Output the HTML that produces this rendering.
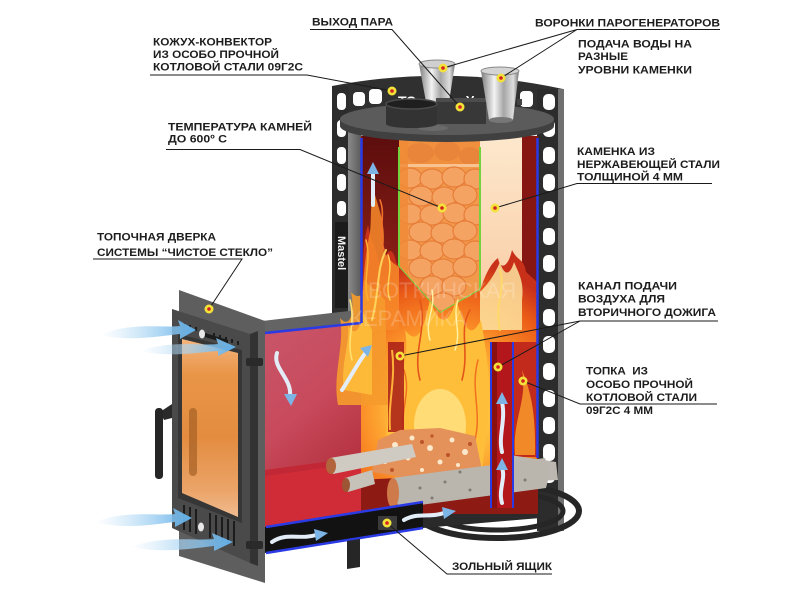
<!DOCTYPE html>
<html><head><meta charset="utf-8">
<style>
html,body{margin:0;padding:0;background:#fff;}
svg{display:block;}
.t{font-family:"Liberation Sans","DejaVu Sans",sans-serif;font-weight:bold;font-size:11px;fill:#1c1c1c;}
.l{stroke:#1a1a1a;stroke-width:1;fill:none;}
</style></head><body>
<svg width="800" height="600" viewBox="0 0 800 600" xmlns="http://www.w3.org/2000/svg">
<defs>
 <radialGradient id="gFlame" cx="445" cy="410" r="150" gradientUnits="userSpaceOnUse">
  <stop offset="0" stop-color="#ffe98a"/>
  <stop offset="0.28" stop-color="#ffc640"/>
  <stop offset="0.55" stop-color="#fb9028"/>
  <stop offset="0.82" stop-color="#eb5c17"/>
  <stop offset="1" stop-color="#c8301a"/>
 </radialGradient>
 <linearGradient id="gWall" x1="0" y1="0" x2="0.4" y2="1">
  <stop offset="0" stop-color="#c9566a"/>
  <stop offset="0.5" stop-color="#c84a5c"/>
  <stop offset="1" stop-color="#b12d3a"/>
 </linearGradient>
 <linearGradient id="gLeft" x1="0" y1="0" x2="0" y2="1">
  <stop offset="0" stop-color="#5c0d0d"/>
  <stop offset="1" stop-color="#a2291a"/>
 </linearGradient>
 <linearGradient id="gCream" x1="0" y1="0" x2="0" y2="1">
  <stop offset="0" stop-color="#fde8cd"/>
  <stop offset="1" stop-color="#f8c79c"/>
 </linearGradient>
 <linearGradient id="gGlass" x1="0" y1="0" x2="0" y2="1">
  <stop offset="0" stop-color="#f3b57f"/>
  <stop offset="0.2" stop-color="#e99547"/>
  <stop offset="0.55" stop-color="#e38c40"/>
  <stop offset="0.85" stop-color="#eba468"/>
  <stop offset="1" stop-color="#f0bb90"/>
 </linearGradient>
 <linearGradient id="gSteel" x1="0" y1="0" x2="1" y2="0">
  <stop offset="0" stop-color="#7d7d7d"/>
  <stop offset="0.35" stop-color="#f3f3f3"/>
  <stop offset="0.6" stop-color="#a6a6a6"/>
  <stop offset="0.85" stop-color="#dedede"/>
  <stop offset="1" stop-color="#727272"/>
 </linearGradient>
 <linearGradient id="gAir" x1="0" y1="0" x2="1" y2="0">
  <stop offset="0" stop-color="#bfe0f7" stop-opacity="0"/>
  <stop offset="0.5" stop-color="#a8d4f3" stop-opacity="0.7"/>
  <stop offset="1" stop-color="#5eaee8"/>
 </linearGradient>
 <linearGradient id="gGreyStrip" x1="0" y1="0" x2="1" y2="0">
  <stop offset="0" stop-color="#8a8a8a"/>
  <stop offset="1" stop-color="#5c5c5c"/>
 </linearGradient>
 <clipPath id="cStone"><polygon points="399,140 399,267 440,313 480,290 480,140"/></clipPath>
</defs>

<rect width="800" height="600" fill="#fff"/>

<!-- ===== convector frame ===== -->
<path d="M332,86 Q447,64 563,89 L563,128 L332,128 Z" fill="#303030"/>
<g fill="#fff">
 <rect x="353" y="92" width="12" height="14" rx="4"/>
 <rect x="369" y="89" width="13" height="15" rx="4"/>
 <rect x="520" y="91" width="13" height="16" rx="4"/>
</g>
<text x="398" y="106" font-family="Liberation Sans, sans-serif" font-weight="bold" font-size="14" fill="#fff">ТЭ</text>
<text x="466" y="105" font-family="Liberation Sans, sans-serif" font-weight="bold" font-size="13" fill="#fff">У</text>

<!-- left column -->
<rect x="332" y="86" width="17" height="232" fill="#2c2c2c"/>
<g fill="#fff">
 <rect x="337" y="93" width="9" height="17" rx="4"/>
 <rect x="337" y="120" width="9" height="17" rx="4"/>
 <rect x="337" y="147" width="9" height="17" rx="4"/>
 <rect x="337" y="174" width="9" height="17" rx="4"/>
 <rect x="337" y="201" width="9" height="15" rx="4"/>
</g>
<rect x="335" y="222" width="13" height="86" fill="#1b1b1b"/>
<text transform="translate(338,236) rotate(90)" font-family="Liberation Sans, sans-serif" font-weight="bold" font-size="11" fill="#f2f2f2">Mastel</text>
<rect x="348" y="126" width="13" height="194" fill="url(#gGreyStrip)"/>

<!-- right column -->
<rect x="537" y="89" width="22" height="442" fill="#2c2c2c"/>
<rect x="558" y="89" width="6" height="442" fill="#707070"/>
<g fill="#fff">
 <rect x="543" y="94" width="12" height="16" rx="5"/>
 <rect x="543" y="120" width="12" height="17" rx="5"/>
 <rect x="543" y="147" width="12" height="17" rx="5"/>
 <rect x="543" y="174" width="12" height="17" rx="5"/>
 <rect x="543" y="201" width="12" height="17" rx="5"/>
 <rect x="543" y="228" width="12" height="17" rx="5"/>
 <rect x="543" y="255" width="12" height="17" rx="5"/>
 <rect x="543" y="282" width="12" height="17" rx="5"/>
 <rect x="543" y="309" width="12" height="17" rx="5"/>
 <rect x="543" y="336" width="12" height="17" rx="5"/>
 <rect x="543" y="363" width="12" height="17" rx="5"/>
 <rect x="543" y="390" width="12" height="17" rx="5"/>
 <rect x="543" y="417" width="12" height="17" rx="5"/>
 <rect x="543" y="444" width="12" height="17" rx="5"/>
 <rect x="543" y="471" width="12" height="12" rx="5"/>
</g>

<!-- base ring -->
<g fill="none" stroke="#262626">
 <ellipse cx="497" cy="511" rx="82" ry="27" stroke-width="6"/>
 <ellipse cx="497" cy="511" rx="66" ry="19" stroke-width="5"/>
</g>
<path d="M420,500 L500,495 L540,500 L540,518 L423,528 Z" fill="#2a2a2a"/>

<!-- ===== firebox (left box) ===== -->
<polygon points="262,321 349,311 361,311 361,323 265,333" fill="#646464"/>
<polygon points="265,333 361,323 361,513 265,527" fill="url(#gWall)"/>
<polygon points="265,470 378,455 423,470 423,502 265,527" fill="#cf2c38"/>
<polygon points="265,470 378,455 382,460 265,476" fill="#b82432" opacity="0.6"/>

<!-- ===== cylinder interior ===== -->
<rect x="361" y="136" width="177" height="378" fill="#8e1a14"/>
<rect x="362" y="136" width="37" height="200" fill="url(#gLeft)"/>
<rect x="480" y="136" width="42" height="200" fill="url(#gCream)"/>
<rect x="522" y="136" width="15" height="210" fill="#861612"/>

<!-- stone box -->
<polygon points="399,140 399,267 440,313 480,290 480,140" fill="#f29a4b"/>
<g clip-path="url(#cStone)">
 <rect x="399" y="140" width="81" height="25" fill="#f0903e"/>
 <g fill="#e9853a">
  <ellipse cx="420" cy="153" rx="14" ry="10"/>
  <ellipse cx="447" cy="151" rx="13" ry="10"/>
  <ellipse cx="470" cy="156" rx="11" ry="9"/>
 </g>
 <rect x="399" y="164" width="81" height="3" fill="#f8c390"/>
 <g fill="#f5a363" stroke="#e67d38" stroke-width="1.2">
  <ellipse cx="410" cy="178" rx="12" ry="10"/><ellipse cx="432" cy="179" rx="12" ry="10"/><ellipse cx="454" cy="177" rx="12" ry="10"/><ellipse cx="475" cy="179" rx="11" ry="10"/>
  <ellipse cx="421" cy="196" rx="12" ry="10"/><ellipse cx="444" cy="197" rx="12" ry="10"/><ellipse cx="465" cy="195" rx="12" ry="10"/>
  <ellipse cx="410" cy="214" rx="12" ry="10"/><ellipse cx="432" cy="215" rx="12" ry="10"/><ellipse cx="455" cy="213" rx="12" ry="10"/><ellipse cx="475" cy="215" rx="11" ry="10"/>
  <ellipse cx="421" cy="232" rx="12" ry="10"/><ellipse cx="443" cy="233" rx="12" ry="10"/><ellipse cx="465" cy="231" rx="12" ry="10"/>
  <ellipse cx="410" cy="250" rx="12" ry="10"/><ellipse cx="432" cy="251" rx="12" ry="10"/><ellipse cx="454" cy="249" rx="12" ry="10"/><ellipse cx="475" cy="251" rx="11" ry="10"/>
  <ellipse cx="421" cy="268" rx="12" ry="10"/><ellipse cx="443" cy="269" rx="12" ry="10"/><ellipse cx="465" cy="267" rx="12" ry="10"/>
  <ellipse cx="432" cy="286" rx="12" ry="10"/><ellipse cx="454" cy="286" rx="12" ry="10"/>
  <ellipse cx="443" cy="302" rx="12" ry="9"/>
 </g>
 <rect x="399" y="140" width="9" height="173" fill="#f08a36" opacity="0.8"/>
</g>
<polyline points="399,147 399,267 440,313 480,290 480,147" fill="none" stroke="#74d23e" stroke-width="2"/>

<!-- flames -->
<path d="M361,480 L361,300 C366,280 360,250 368,225 C372,245 378,250 380,272 C385,252 392,242 396,262 L399,267 L440,313 L480,290 C485,276 490,264 498,258 C500,270 508,268 512,250 C518,262 524,258 526,272 L537,282 L537,470 Z" fill="url(#gFlame)"/>
<path d="M362,300 C364,270 366,250 370,232 C372,215 369,205 375,195 C381,215 386,228 383,250 C390,262 396,265 399,267 L399,330 L362,330 Z" fill="#f7892a" opacity="0.85"/>
<path d="M480,330 L480,292 C488,284 494,276 500,262 C504,276 510,276 514,262 C520,276 524,282 522,300 L522,330 Z" fill="#fde3a0" opacity="0.85"/>
<path d="M338,405 C332,375 345,345 340,318 C350,330 355,312 351,292 C360,302 366,292 364,280 L385,300 L388,405 Z" fill="#f59a2c" opacity="0.92"/>
<path d="M344,390 C340,365 350,345 348,325 C356,340 362,325 362,310 L372,330 L372,395 Z" fill="#ffc23c" opacity="0.8"/>
<path d="M392,470 C378,430 395,400 390,370 C400,390 410,360 405,330 C420,350 425,320 430,300 C440,330 450,322 456,300 C466,330 470,340 481,320 C486,350 492,382 488,420 L482,470 Z" fill="#ffbe3a"/>
<ellipse cx="440" cy="425" rx="26" ry="36" fill="#ffe58a" opacity="0.75"/>
<g fill="none" stroke-linecap="round">
 <path d="M372,320 C380,290 376,270 386,250" stroke="#ffd25a" stroke-width="2"/>
 <path d="M420,380 C412,350 428,330 420,300" stroke="#e3541a" stroke-width="1.6"/>
 <path d="M462,380 C470,350 458,330 470,310" stroke="#e3541a" stroke-width="1.6"/>
 <path d="M500,330 C494,300 506,290 500,270" stroke="#ffd86a" stroke-width="2"/>
 <path d="M352,360 C346,340 356,322 350,300" stroke="#ffe070" stroke-width="1.6"/>
 <path d="M520,420 C512,395 524,375 518,350" stroke="#ffb540" stroke-width="2"/>
 <path d="M384,250 C378,230 386,215 380,200" stroke="#f3702a" stroke-width="1.6"/>
 <path d="M405,440 C398,410 412,395 404,370" stroke="#f07020" stroke-width="1.5"/>
 <path d="M475,440 C482,410 470,390 478,360" stroke="#f07020" stroke-width="1.5"/>
 <path d="M430,340 C424,320 436,310 432,290" stroke="#fff0a0" stroke-width="1.5"/>
 <path d="M455,350 C462,330 452,318 458,300" stroke="#fff0a0" stroke-width="1.5"/>
 <path d="M368,300 C362,280 372,262 366,240" stroke="#ffb030" stroke-width="1.5"/>
 <path d="M390,300 C384,285 394,270 388,255" stroke="#ffd050" stroke-width="1.5"/>
</g>

<!-- red plate -->
<rect x="388" y="342" width="16" height="90" fill="#a81c18" opacity="0.85"/>
<path d="M390,430 C388,400 396,380 392,350" stroke="#ffb13a" stroke-width="2" fill="none"/>

<!-- right panel -->
<rect x="513" y="342" width="24" height="115" fill="#c22a1c"/>
<path d="M515,455 C512,420 528,400 522,370 C530,390 536,410 535,455 Z" fill="#f7932b" opacity="0.9"/>

<!-- channel -->
<rect x="491" y="342" width="22" height="166" fill="#b3171b"/>
<rect x="491" y="342" width="6" height="166" fill="#8a1010"/>
<line x1="491" y1="342" x2="491" y2="508" stroke="#2a3ae4" stroke-width="2"/>
<line x1="513" y1="342" x2="513" y2="508" stroke="#2a3ae4" stroke-width="2"/>

<!-- blue edges -->
<g stroke="#2a3ae4" stroke-width="2.5" fill="none">
 <line x1="361.5" y1="138" x2="361.5" y2="323"/>
 <line x1="361" y1="323" x2="265" y2="333"/>
 <line x1="537.5" y1="138" x2="537.5" y2="458"/>
</g>

<!-- logs / embers -->
<polygon points="372,472 378,440 400,430 440,428 475,436 482,470 420,480" fill="#e4915a"/>
<g fill="#fff3d8" opacity="0.9">
 <circle cx="395" cy="445" r="3"/><circle cx="412" cy="438" r="2.5"/><circle cx="430" cy="448" r="3"/><circle cx="452" cy="440" r="2.5"/><circle cx="465" cy="452" r="3"/><circle cx="408" cy="458" r="2.5"/><circle cx="440" cy="462" r="2.5"/><circle cx="385" cy="462" r="2"/><circle cx="458" cy="465" r="2"/><circle cx="422" cy="470" r="2"/>
</g>
<g fill="#b44a20" opacity="0.85">
 <circle cx="402" cy="452" r="2"/><circle cx="422" cy="442" r="2"/><circle cx="448" cy="455" r="2"/><circle cx="470" cy="444" r="2"/><circle cx="392" cy="470" r="2"/><circle cx="432" cy="436" r="1.6"/>
</g>
<polygon points="330,458 412,444 416,457 333,474" fill="#cfcac2"/>
<ellipse cx="331" cy="466" rx="5" ry="8" fill="#b2643c"/>
<polygon points="345,478 372,470 375,484 348,492" fill="#c6c1b9"/>
<ellipse cx="346" cy="485" rx="4" ry="7" fill="#9c5634"/>
<polygon points="510,455 556,462 558,480 512,482" fill="#bcb7b0"/>
<polygon points="392,478 545,458 550,472 546,488 398,508" fill="#bab6ae"/>
<g fill="#7e7a74">
 <circle cx="420" cy="488" r="1.5"/><circle cx="445" cy="482" r="1.5"/><circle cx="470" cy="490" r="1.5"/><circle cx="500" cy="476" r="1.5"/><circle cx="525" cy="480" r="1.5"/><circle cx="432" cy="498" r="1.5"/><circle cx="460" cy="472" r="1.5"/>
</g>
<ellipse cx="393" cy="493" rx="6" ry="15" fill="#cf7a4a"/>

<!-- channel front over logs -->
<rect x="491" y="455" width="22" height="53" fill="#b3171b"/>
<rect x="491" y="455" width="6" height="53" fill="#8a1010"/>
<line x1="491" y1="455" x2="491" y2="508" stroke="#2a3ae4" stroke-width="2"/>
<line x1="513" y1="455" x2="513" y2="508" stroke="#2a3ae4" stroke-width="2"/>

<!-- ash box -->
<polygon points="265,527 423,502 423,528 265,553" fill="#121212"/>
<line x1="266" y1="527" x2="423" y2="502" stroke="#2a3ae4" stroke-width="2.5"/>
<line x1="266" y1="553" x2="423" y2="528" stroke="#2a3ae4" stroke-width="2.5"/>
<rect x="378" y="516" width="19" height="14" fill="#3a3a3a"/>
<polygon points="347,541 360,539 360,567 347,569" fill="#262626"/>

<!-- watermark -->
<g font-family="Liberation Sans, sans-serif" font-size="22" fill="#fff" opacity="0.2">
 <text x="368" y="298">ВОТКИНСКАЯ</text>
 <text x="350" y="326">КЕРАМИКА</text>
</g>

<!-- ===== lid & funnels ===== -->
<path d="M340,119 L340,126 A107,16 0 0 0 554,126 L554,119 Z" fill="#404040"/>
<ellipse cx="447" cy="119" rx="107" ry="16" fill="#5b5b5b"/>
<ellipse cx="433" cy="128" rx="15" ry="3" fill="#6a6a6a"/>
<polygon points="419,64 455,64 449,102 426,102" fill="url(#gSteel)"/>
<ellipse cx="437" cy="64" rx="18" ry="4" fill="#d0d0d0" stroke="#8a8a8a" stroke-width="1"/>
<rect x="436" y="100" width="50" height="24" fill="#383838"/>
<rect x="436" y="98" width="50" height="4" fill="#4c4c4c"/>
<rect x="386" y="104" width="51" height="20" fill="#333"/>
<ellipse cx="411.5" cy="124" rx="25.5" ry="4" fill="#333"/>
<ellipse cx="411.5" cy="104" rx="25.5" ry="5" fill="#1f1f1f" stroke="#4a4a4a" stroke-width="1.5"/>
<polygon points="481,71 519,71 513,120 489,120" fill="url(#gSteel)"/>
<ellipse cx="501" cy="120" rx="12" ry="3" fill="#777"/>
<ellipse cx="500" cy="71" rx="19" ry="4" fill="#d4d4d4" stroke="#8a8a8a" stroke-width="1"/>
<rect x="517" y="99" width="5" height="6" fill="#444"/>

<!-- ===== door ===== -->
<polygon points="179,290 265,321 265,583 179,556" fill="#5e5e5e"/>
<polygon points="172,309 250,334 250,563 172,528" fill="#4a4a4a"/>
<polygon points="250,334 258,331 258,566 250,563" fill="#333"/>
<polygon points="178,334 242,350 242,523 178,498" fill="#363636"/>
<polygon points="182,339 238,353 238,517 182,493" fill="url(#gGlass)"/>
<rect x="189" y="408" width="8" height="68" rx="4" fill="#a55f24" opacity="0.7"/>
<g fill="#1c1c1c">
 <rect x="183" y="323" width="2" height="4"/><rect x="189" y="325" width="2" height="4"/><rect x="195" y="327" width="2" height="4"/>
 <rect x="213" y="333" width="2" height="4"/><rect x="219" y="335" width="2" height="4"/><rect x="225" y="337" width="2" height="4"/><rect x="231" y="339" width="2" height="4"/><rect x="237" y="341" width="2" height="4"/>
 <polygon points="205,333 228,340 228,344 205,337"/>
</g>
<ellipse cx="202" cy="334" rx="3" ry="4.5" fill="#e8e8e8"/>
<g stroke="#1c1c1c" stroke-width="2">
 <line x1="184" y1="505" x2="184" y2="530"/><line x1="190" y1="507" x2="190" y2="532"/><line x1="196" y1="509" x2="196" y2="534"/>
 <line x1="210" y1="513" x2="210" y2="538"/><line x1="216" y1="515" x2="216" y2="540"/><line x1="222" y1="517" x2="222" y2="542"/><line x1="228" y1="519" x2="228" y2="544"/><line x1="234" y1="521" x2="234" y2="546"/>
</g>
<ellipse cx="201" cy="527" rx="3" ry="4.5" fill="#e8e8e8"/>
<rect x="246" y="358" width="17" height="8" rx="2" fill="#2a2a2a"/>
<rect x="246" y="541" width="17" height="8" rx="2" fill="#2a2a2a"/>
<path d="M160,412 L172,404 L172,418 L164,420 Z" fill="#2a2a2a"/>
<rect x="155" y="408" width="8" height="71" rx="3.5" fill="#262626"/>

<!-- ===== air arrows ===== -->
<g fill="url(#gAir)">
 <path d="M100,335 C130,322 160,328 180,326 L178,320 L196,330 L180,339 L180,334 C160,336 130,342 100,335 Z"/>
 <path d="M140,351 C170,340 200,346 218,344 L216,338 L236,347 L218,356 L218,351 C200,352 170,358 140,351 Z"/>
 <path d="M95,522 C125,510 155,516 175,514 L173,508 L192,518 L175,527 L175,522 C155,524 125,530 95,522 Z"/>
 <path d="M130,547 C165,535 195,541 214,539 L212,533 L233,542 L214,551 L214,546 C195,548 165,554 130,547 Z"/>
</g>
<g fill="none" stroke="#e3edf8" stroke-width="4" stroke-linecap="round">
 <path d="M277,353 C272,368 292,378 290,396"/>
 <path d="M342,390 C350,378 356,366 366,352"/>
 <path d="M373,205 L373,172"/>
 <path d="M502,452 C498,436 506,420 502,402"/>
 <path d="M502,503 C498,490 506,478 502,468"/>
 <path d="M272,542 C286,532 300,540 316,535"/>
 <path d="M404,520 C418,512 430,518 444,513"/>
</g>
<g fill="#7db4e6">
 <polygon points="284,394 297,394 291,406"/>
 <polygon points="360,348 372,345 368,357"/>
 <polygon points="367,174 379,174 373,162"/>
 <polygon points="496,404 508,404 502,392"/>
 <polygon points="496,470 508,470 502,458"/>
 <polygon points="314,529 316,541 328,533"/>
 <polygon points="442,507 444,519 456,511"/>
</g>

<!-- ===== leader lines ===== -->
<g class="l">
 <polyline points="310,29.5 392,29.5 460,107"/>
 <polyline points="150,75 307,75 392,91"/>
 <polyline points="166,149.5 300,149.5 442,208"/>
 <line x1="577" y1="29.5" x2="720" y2="29.5"/>
 <line x1="577" y1="29.5" x2="443" y2="68"/>
 <line x1="577" y1="29.5" x2="501" y2="78"/>
 <polyline points="712,183.5 577,183.5 495,208"/>
 <line x1="580" y1="321" x2="718" y2="321"/>
 <line x1="580" y1="321" x2="400" y2="356"/>
 <line x1="580" y1="321" x2="498" y2="367"/>
 <polyline points="717,404 580,404 523,381"/>
 <polyline points="93,259 242,259 209,309"/>
 <polyline points="552,574 447,574 387,523"/>
</g>

<!-- dots -->
<g>
 <g fill="#f3e23a"><circle cx="392" cy="91" r="4.5"/><circle cx="443" cy="68" r="4.5"/><circle cx="501" cy="78" r="4.5"/><circle cx="460" cy="107" r="4.5"/><circle cx="442" cy="208" r="4.5"/><circle cx="495" cy="208" r="4.5"/><circle cx="400" cy="356" r="4.5"/><circle cx="498" cy="367" r="4.5"/><circle cx="523" cy="381" r="4.5"/><circle cx="209" cy="309" r="4.5"/><circle cx="387" cy="523" r="4.5"/></g>
 <g fill="#d42020"><circle cx="392" cy="91" r="1.8"/><circle cx="443" cy="68" r="1.8"/><circle cx="501" cy="78" r="1.8"/><circle cx="460" cy="107" r="1.8"/><circle cx="442" cy="208" r="1.8"/><circle cx="495" cy="208" r="1.8"/><circle cx="400" cy="356" r="1.8"/><circle cx="498" cy="367" r="1.8"/><circle cx="523" cy="381" r="1.8"/><circle cx="209" cy="309" r="1.8"/><circle cx="387" cy="523" r="1.8"/></g>
</g>

<!-- ===== labels ===== -->
<g class="t">
 <text x="312" y="25.7" textLength="81" lengthAdjust="spacingAndGlyphs">ВЫХОД ПАРА</text>
 <text x="153" y="45.5" textLength="119" lengthAdjust="spacingAndGlyphs">КОЖУХ-КОНВЕКТОР</text>
 <text x="153" y="58" textLength="126" lengthAdjust="spacingAndGlyphs">ИЗ ОСОБО ПРОЧНОЙ</text>
 <text x="153" y="70.5" textLength="150" lengthAdjust="spacingAndGlyphs">КОТЛОВОЙ СТАЛИ 09Г2С</text>
 <text x="168" y="130.7" textLength="144" lengthAdjust="spacingAndGlyphs">ТЕМПЕРАТУРА КАМНЕЙ</text>
 <text x="168" y="142.3" textLength="59" lengthAdjust="spacingAndGlyphs">ДО 600º С</text>
 <text x="535" y="26.7" textLength="185" lengthAdjust="spacingAndGlyphs">ВОРОНКИ ПАРОГЕНЕРАТОРОВ</text>
 <text x="578" y="47.3" textLength="114" lengthAdjust="spacingAndGlyphs">ПОДАЧА ВОДЫ НА</text>
 <text x="578" y="60" textLength="50" lengthAdjust="spacingAndGlyphs">РАЗНЫЕ</text>
 <text x="578" y="73.3" textLength="114" lengthAdjust="spacingAndGlyphs">УРОВНИ КАМЕНКИ</text>
 <text x="577" y="155" textLength="78" lengthAdjust="spacingAndGlyphs">КАМЕНКА ИЗ</text>
 <text x="577" y="168" textLength="143" lengthAdjust="spacingAndGlyphs">НЕРЖАВЕЮЩЕЙ СТАЛИ</text>
 <text x="577" y="180.5" textLength="106" lengthAdjust="spacingAndGlyphs">ТОЛЩИНОЙ 4 ММ</text>
 <text x="578" y="289.3" textLength="99" lengthAdjust="spacingAndGlyphs">КАНАЛ ПОДАЧИ</text>
 <text x="578" y="302.7" textLength="87" lengthAdjust="spacingAndGlyphs">ВОЗДУХА ДЛЯ</text>
 <text x="578" y="316" textLength="138" lengthAdjust="spacingAndGlyphs">ВТОРИЧНОГО ДОЖИГА</text>
 <text x="586" y="374.3" textLength="62" lengthAdjust="spacingAndGlyphs">ТОПКА&#160; ИЗ</text>
 <text x="586" y="388" textLength="107" lengthAdjust="spacingAndGlyphs">ОСОБО ПРОЧНОЙ</text>
 <text x="586" y="401" textLength="111" lengthAdjust="spacingAndGlyphs">КОТЛОВОЙ СТАЛИ</text>
 <text x="586" y="414" textLength="67" lengthAdjust="spacingAndGlyphs">09Г2С 4 ММ</text>
 <text x="97" y="240.7" textLength="119" lengthAdjust="spacingAndGlyphs">ТОПОЧНАЯ ДВЕРКА</text>
 <text x="97" y="256" textLength="176" lengthAdjust="spacingAndGlyphs">СИСТЕМЫ “ЧИСТОЕ СТЕКЛО”</text>
 <text x="452" y="570" textLength="100" lengthAdjust="spacingAndGlyphs">ЗОЛЬНЫЙ ЯЩИК</text>
</g>
</svg>
</body></html>
